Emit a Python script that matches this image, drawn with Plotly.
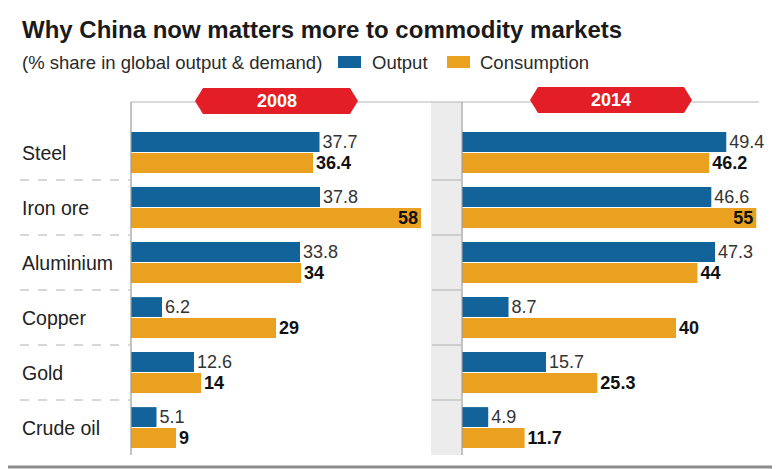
import plotly.graph_objects as go

W, H = 780, 469
commodities = ["Steel", "Iron ore", "Aluminium", "Copper", "Gold", "Crude oil"]
output_2008 = [37.7, 37.8, 33.8, 6.2, 12.6, 5.1]
consumption_2008 = [36.4, 58, 34, 29, 14, 9]
output_2014 = [49.4, 46.6, 47.3, 8.7, 15.7, 4.9]
consumption_2014 = [46.2, 55, 44, 40, 25.3, 11.7]
years = ["2008", "2014"]

BLUE = "#12639a"
ORANGE = "#eaa11f"
RED = "#e31e26"
FONT = "Liberation Sans, Arial, sans-serif"
OFF = 8  # page body margin offset

def px(x):
    return (x - OFF) / W

def py(y):
    return 1 - (y - OFF) / H

def fmt(v):
    return f"{v:g}"

fig = go.Figure()

def add_panel(out, cons, xa, inside_thresh):
    fig.add_trace(go.Bar(
        y=commodities, x=out, orientation="h", name="Output",
        marker=dict(color=BLUE, line=dict(width=0)),
        text=[fmt(v) for v in out], textposition="outside", textangle=0,
        textfont=dict(family=FONT, size=18, color="#333333"),
        constraintext="none", cliponaxis=False,
        xaxis=xa, yaxis="y", showlegend=False, hoverinfo="skip"))
    pos = ["inside" if v >= inside_thresh else "outside" for v in cons]
    fig.add_trace(go.Bar(
        y=commodities, x=cons, orientation="h", name="Consumption",
        marker=dict(color=ORANGE, line=dict(width=0)),
        text=["<b>" + fmt(v) + "</b>" for v in cons], textposition=pos,
        insidetextanchor="end", textangle=0,
        textfont=dict(family=FONT, size=18, color="#111111"),
        insidetextfont=dict(family=FONT, size=18, color="#111111"),
        outsidetextfont=dict(family=FONT, size=18, color="#111111"),
        constraintext="none", cliponaxis=False,
        xaxis=xa, yaxis="y", showlegend=False, hoverinfo="skip"))

add_panel(output_2008, consumption_2008, "x", 55)
add_panel(output_2014, consumption_2014, "x2", 52)

shapes = []
annotations = []

# grey separator band
shapes.append(dict(type="rect", xref="paper", yref="paper",
                   x0=px(431), x1=px(461), y0=py(455), y1=py(102),
                   fillcolor="#ececec", line=dict(width=0), layer="below"))
# top rule
shapes.append(dict(type="line", xref="paper", yref="paper",
                   x0=px(131), x1=px(759), y0=py(102), y1=py(102),
                   line=dict(color="#b5b5b5", width=1)))
# panel base lines
for xp in (131, 462):
    shapes.append(dict(type="line", xref="paper", yref="paper",
                       x0=px(xp), x1=px(xp), y0=py(455), y1=py(102),
                       line=dict(color="#9a9a9a", width=1.2)))
# row separators
for i in range(len(commodities) - 1):
    shapes.append(dict(type="line", xref="paper", yref="y",
                       x0=px(20), x1=px(130), y0=i + 0.5, y1=i + 0.5,
                       line=dict(color="#b0b0b0", width=1, dash="dash")))
    shapes.append(dict(type="line", xref="paper", yref="y",
                       x0=px(432), x1=px(461), y0=i + 0.5, y1=i + 0.5,
                       line=dict(color="#b0b0b0", width=1)))
# bottom rule
shapes.append(dict(type="line", xref="paper", yref="paper",
                   x0=0, x1=1, y0=py(467), y1=py(467),
                   line=dict(color="#8c8c8c", width=3)))

# year badges
badges = [(195, 358, 101), (530, 692, 100)]
for (xl, xr, yc), yr in zip(badges, years):
    hh = 13
    tip = 8
    pts = [(xl, yc), (xl + tip, yc - hh), (xr - tip, yc - hh), (xr, yc),
           (xr - tip, yc + hh), (xl + tip, yc + hh)]
    path = "M " + " L ".join(f"{px(a):.5f},{py(b):.5f}" for a, b in pts) + " Z"
    shapes.append(dict(type="path", xref="paper", yref="paper", path=path,
                       fillcolor=RED, line=dict(width=0)))
    annotations.append(dict(xref="paper", yref="paper", x=px((xl + xr) / 2), y=py(yc),
                            text="<b>" + yr + "</b>", showarrow=False,
                            font=dict(family=FONT, size=18, color="white"),
                            xanchor="center", yanchor="middle"))

# category labels
for c in commodities:
    annotations.append(dict(xref="paper", yref="y", x=px(20), y=c, text=c,
                            showarrow=False, xanchor="left", yanchor="middle",
                            font=dict(family=FONT, size=19.5, color="#222222")))

# title & subtitle
annotations.append(dict(xref="paper", yref="paper", x=px(20), y=py(30),
                        text="<b>Why China now matters more to commodity markets</b>",
                        showarrow=False, xanchor="left", yanchor="middle",
                        font=dict(family=FONT, size=24, color="#1a1a1a")))
annotations.append(dict(xref="paper", yref="paper", x=px(20), y=py(62),
                        text="(% share in global output & demand)",
                        showarrow=False, xanchor="left", yanchor="middle",
                        font=dict(family=FONT, size=18.5, color="#2a2a2a")))
# legend
legend_items = [("Output", BLUE, 338, 370), ("Consumption", ORANGE, 447, 478)]
for name, col, sx, tx in legend_items:
    shapes.append(dict(type="rect", xref="paper", yref="paper",
                       x0=px(sx), x1=px(sx + 23), y0=py(68), y1=py(56),
                       fillcolor=col, line=dict(width=0)))
    annotations.append(dict(xref="paper", yref="paper", x=px(tx), y=py(62),
                            text=name, showarrow=False, xanchor="left", yanchor="middle",
                            font=dict(family=FONT, size=18.5, color="#2a2a2a")))

axis_off = dict(showgrid=False, zeroline=False, showticklabels=False,
                showline=False, ticks="", fixedrange=True)

fig.update_layout(
    width=W, height=H,
    margin=dict(l=0, r=0, t=0, b=0),
    paper_bgcolor="white", plot_bgcolor="rgba(0,0,0,0)",
    barmode="group", bargap=0.24, bargroupgap=0.05,
    xaxis=dict(domain=[px(131), px(431)], range=[0, 60], anchor="y", **axis_off),
    xaxis2=dict(domain=[px(462), px(760)], range=[0, 298 / 5.35], anchor="y", **axis_off),
    yaxis=dict(domain=[py(455), py(125)], type="category",
               categoryorder="array", categoryarray=commodities,
               autorange="reversed", anchor="x", **axis_off),
    shapes=shapes, annotations=annotations,
    font=dict(family=FONT),
)

fig.write_html("out.html")
